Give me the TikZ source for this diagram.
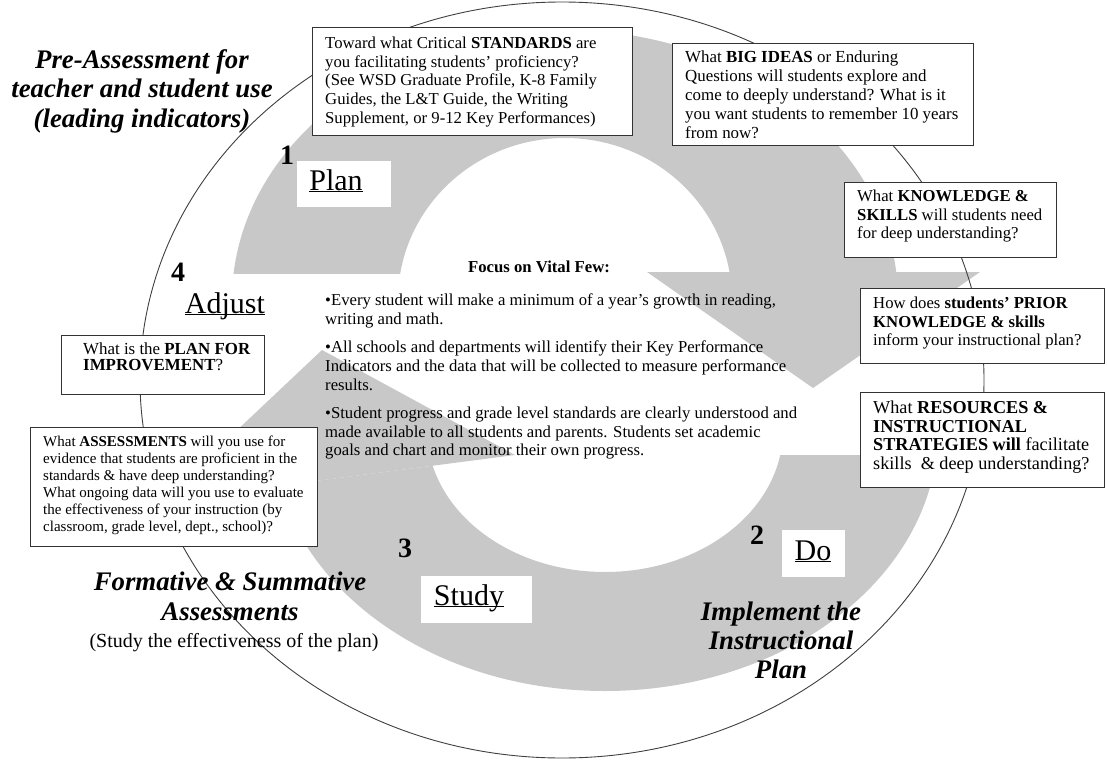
\documentclass[tikz,border=0pt]{standalone}
\usepackage{fontspec}
\setmainfont{Liberation Serif}
\newcommand\ulx[1]{\underline{\smash{#1}}}
\definecolor{ringgray}{RGB}{200,200,200}
\begin{document}
\begin{tikzpicture}[x=1pt,y=-1pt,
  qbox/.style={draw=black!80, line width=0.9pt, fill=white, inner sep=0pt, anchor=north west},
  qtext/.style={anchor=north west, inner sep=0pt, align=left, font=\fontsize{16.7}{18.6}\selectfont},
  qtextsm/.style={anchor=north west, inner sep=0pt, align=left, font=\fontsize{15}{17}\selectfont},
  bigital/.style={anchor=north, inner sep=0pt, align=center, font=\fontsize{26.8}{29.5}\selectfont\bfseries\itshape},
  numlab/.style={inner sep=0pt, font=\fontsize{28}{28}\selectfont\bfseries},
  biglab/.style={inner sep=0pt, anchor=base, font=\fontsize{30}{30}\selectfont},
  wbg/.style={fill=white, inner sep=0pt, anchor=north west},
  circline/.style={draw=black!75, line width=0.9pt}]
\useasboundingbox (0,0) rectangle (1107,762);
\fill[white] (0,0) rectangle (1107,762);

% upper grey arrow (Plan -> Do)
\begin{scope}
  \clip (0,0) rectangle (1107,273);
  \fill[ringgray, even odd rule] (565,300) ellipse [x radius=333pt, y radius=270pt]
                                 (565,300) ellipse [x radius=167pt, y radius=162pt];
\end{scope}
\fill[ringgray] (647,272) -- (980,272) -- (813,388) -- cycle;

% lower grey arrow (Do -> Study -> Adjust)
\begin{scope}
  \clip (1107,455) -- (515,455) -- (0,522) -- (0,762) -- (1107,762) -- cycle;
  \fill[ringgray, even odd rule] (605,430) ellipse [x radius=333pt, y radius=261pt]
                                 (605,430) ellipse [x radius=178pt, y radius=142pt];
\end{scope}
\fill[ringgray] (322,350) -- (515,455) -- (162,501) -- cycle;

% outer thin circle
\draw[circline] (562,380) ellipse [x radius=422pt, y radius=378pt];

% question boxes
\node[qbox, minimum width=320pt, minimum height=108pt] (stdbox) at (312,27) {};
\node[qtext] (stdtxt) at (325,37) {Toward what Critical \textbf{STANDARDS} are\\you facilitating students’ proficiency?\\(See WSD Graduate Profile, K-8 Family\\Guides, the L\&T Guide, the Writing\\Supplement, or 9-12 Key Performances)};

\node[qbox, minimum width=301pt, minimum height=102pt] (bigbox) at (672,43) {};
\begin{scope}
  \clip (673,44) rectangle (972,137.5);
  \node[qtext, font=\fontsize{16.9}{19}\selectfont] (bigtxt) at (685,51) {What \textbf{BIG IDEAS} or Enduring\\Questions will students explore and\\come to deeply understand? What is it\\you want students to remember 10 years\\from now?};
\end{scope}

\node[qbox, minimum width=212pt, minimum height=75pt] (knowbox) at (844,182) {};
\node[qtext] (knowtxt) at (857,190) {What \textbf{KNOWLEDGE \&}\\\textbf{SKILLS} will students need\\for deep understanding?};

\node[qbox, minimum width=244pt, minimum height=75pt] (priorbox) at (860,288) {};
\node[qtext] (priortxt) at (873,297) {How does \textbf{students’ PRIOR}\\\textbf{KNOWLEDGE \& skills}\\inform your instructional plan?};

\node[qbox, minimum width=244pt, minimum height=95pt] (resbox) at (860,392) {};
\node[qtext, font=\fontsize{18.2}{18.4}\selectfont] (restxt) at (873,401) {What \textbf{RESOURCES \&}\\\textbf{INSTRUCTIONAL}\\\textbf{STRATEGIES will} facilitate\\skills \ \& deep understanding?};

\node[qbox, minimum width=203pt, minimum height=59pt] (impbox) at (61,335) {};
\node[qtext, font=\fontsize{16.9}{16}\selectfont] (imptxt) at (83,343) {What is the \textbf{PLAN FOR}\\\textbf{IMPROVEMENT}?};

\node[qbox, minimum width=287pt, minimum height=119pt] (assbox) at (30,427) {};
\node[qtextsm] (asstxt) at (43,436) {What \textbf{ASSESSMENTS} will you use for\\evidence that students are proficient in the\\standards \& have deep understanding?\\What ongoing data will you use to evaluate\\the effectiveness of your instruction (by\\classroom, grade level, dept., school)?};

% centre text
\node[anchor=north, inner sep=0pt, font=\fontsize{16.7}{18.6}\selectfont\bfseries] (focus) at (539,261) {Focus on Vital Few:};
\node[qtext] (bul1) at (325,294) {•Every student will make a minimum of a year’s growth in reading,\\writing and math.};
\node[qtext] (bul2) at (325,341) {•All schools and departments will identify their Key Performance\\Indicators and the data that will be collected to measure performance\\results.};
\node[qtext] (bul3) at (325,407) {•Student progress and grade level standards are clearly understood and\\made available to all students and parents. Students set academic\\goals and chart and monitor their own progress.};

% stage labels
\node[wbg, minimum width=94pt, minimum height=46pt] (planbg) at (297,161) {};
\node[biglab] (plantxt) at (336,190) {\ulx{Plan}};
\node[numlab] (n1) at (287,155) {1};

\node[wbg, minimum width=63pt, minimum height=47pt] (dobg) at (782,530) {};
\node[biglab] (dotxt) at (813,560) {\ulx{Do}};
\node[numlab] (n2) at (757,535) {2};

\node[wbg, minimum width=111pt, minimum height=47pt] (studybg) at (421,576) {};
\node[biglab] (studytxt) at (469,605) {\ulx{Study}};
\node[numlab] (n3) at (405,548) {3};

\node[biglab] (adjtxt) at (225,313) {\ulx{Adjust}};
\node[numlab] (n4) at (178,272) {4};

% side captions
\node[bigital] (pretxt) at (142,49) {Pre-Assessment for\\teacher and student use\\(leading indicators)};
\node[bigital, font=\fontsize{26.8}{30}\selectfont\bfseries\itshape] (formtxt) at (230,572) {Formative \& Summative\\Assessments};
\node[anchor=north, inner sep=0pt, font=\fontsize{20}{24}\selectfont] (studyeff) at (234,633) {(Study the effectiveness of the plan)};
\node[bigital, font=\fontsize{26.8}{29}\selectfont\bfseries\itshape] (impltxt) at (781,602) {Implement the\\Instructional\\Plan};
\end{tikzpicture}
\end{document}
